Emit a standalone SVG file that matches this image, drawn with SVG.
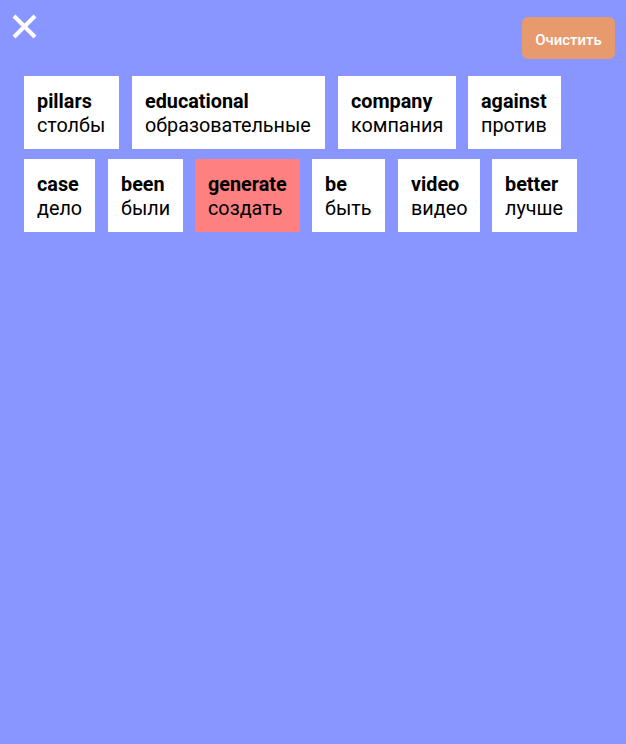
<svg xmlns="http://www.w3.org/2000/svg" width="626" height="744" viewBox="0 0 626 744">
<style>
.card{fill:#ffffff}
.sel{fill:#ff8080}
.en{font-family:Roboto,"Liberation Sans",sans-serif;font-size:19.8px;font-weight:bold;fill:#000}
.ru{font-family:Roboto,"Liberation Sans",sans-serif;font-size:19.8px;fill:#000}
.btn{fill:#e89a6f}
.btxt{font-family:Roboto,"Liberation Sans",sans-serif;font-size:15px;font-weight:500;fill:#fff}
</style>
<rect x="0" y="0" width="626" height="744" fill="#8a96ff"/>
<g id="close">
<path d="M14 16 L35 37 M35 16 L14 37" stroke="#fff" stroke-width="4" stroke-linecap="butt"/>
</g>
<g id="clear-button">
<rect class="btn" x="522" y="17" width="93" height="42" rx="6"/>
<text class="btxt" x="568.5" y="44.5" text-anchor="middle">Очистить</text>
</g>
<g id="connectors"/>
<g id="card-pillars"><rect class="card" x="24" y="76" width="95" height="73"/><text class="en" x="37" y="108">pillars</text><text class="ru" x="37" y="131.5">столбы</text></g>
<g id="card-educational"><rect class="card" x="132" y="76" width="193" height="73"/><text class="en" x="145" y="108">educational</text><text class="ru" x="145" y="131.5">образовательные</text></g>
<g id="card-company"><rect class="card" x="338" y="76" width="118" height="73"/><text class="en" x="351" y="108">company</text><text class="ru" x="351" y="131.5">компания</text></g>
<g id="card-against"><rect class="card" x="468" y="76" width="93" height="73"/><text class="en" x="481" y="108">against</text><text class="ru" x="481" y="131.5">против</text></g>
<g id="card-case"><rect class="card" x="24" y="159" width="71" height="73"/><text class="en" x="37" y="191">case</text><text class="ru" x="37" y="214.5">дело</text></g>
<g id="card-been"><rect class="card" x="108" y="159" width="75" height="73"/><text class="en" x="121" y="191">been</text><text class="ru" x="121" y="214.5">были</text></g>
<g id="card-generate"><rect class="sel" x="195" y="159" width="105" height="73"/><text class="en" x="208" y="191">generate</text><text class="ru" x="208" y="214.5">создать</text></g>
<g id="card-be"><rect class="card" x="312" y="159" width="73" height="73"/><text class="en" x="325" y="191">be</text><text class="ru" x="325" y="214.5">быть</text></g>
<g id="card-video"><rect class="card" x="398" y="159" width="82" height="73"/><text class="en" x="411" y="191">video</text><text class="ru" x="411" y="214.5">видео</text></g>
<g id="card-better"><rect class="card" x="492" y="159" width="85" height="73"/><text class="en" x="505" y="191">better</text><text class="ru" x="505" y="214.5">лучше</text></g>
</svg>
